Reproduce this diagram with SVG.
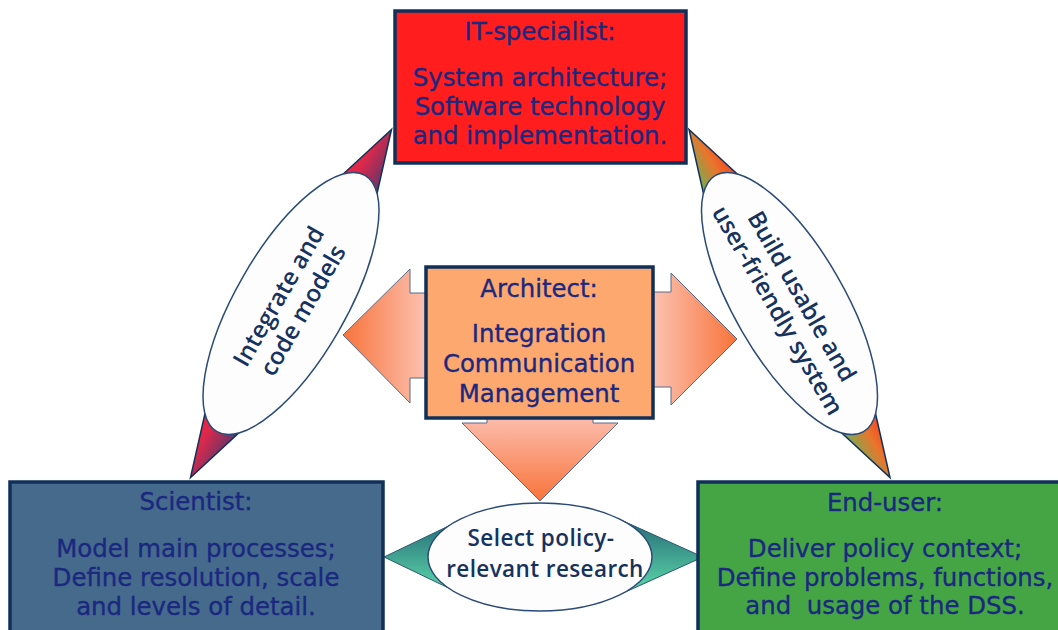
<svg xmlns="http://www.w3.org/2000/svg" width="1058" height="630" viewBox="0 0 1058 630">
<style>
.box{stroke:#10305a;stroke-width:3.5}
.bt{font-family:"DejaVu Sans",Verdana,sans-serif;font-size:24.4px;fill:#1a2880;stroke:#1a2880;stroke-width:0.35;text-anchor:middle}
.ct{font-family:"Open Sans","DejaVu Sans",sans-serif;font-size:24px;font-weight:600;fill:#16325e;text-anchor:middle}
.cb{font-family:"Open Sans","DejaVu Sans",sans-serif;font-size:22.5px;font-weight:600;fill:#16325e;text-anchor:middle;letter-spacing:0.4px}
.ell{fill:#fdfdfd;stroke:#2a4a78;stroke-width:1.5}
.arr{stroke:#5a6a88;stroke-width:1}
</style>
<defs>
<linearGradient id="gL" gradientUnits="userSpaceOnUse" x1="0" y1="-30" x2="0" y2="30">
<stop offset="0" stop-color="#f42038"/><stop offset="0.35" stop-color="#e0284a"/><stop offset="1" stop-color="#363a72"/>
</linearGradient>
<linearGradient id="gR" gradientUnits="userSpaceOnUse" x1="0" y1="-30" x2="0" y2="30">
<stop offset="0" stop-color="#ff2a1e"/><stop offset="0.45" stop-color="#e8762c"/><stop offset="1" stop-color="#3cc864"/>
</linearGradient>
<linearGradient id="gB" x1="0" y1="0" x2="0" y2="1">
<stop offset="0" stop-color="#256a78"/><stop offset="1" stop-color="#5edcaa"/>
</linearGradient>
<linearGradient id="gAL" x1="0" y1="0" x2="1" y2="0">
<stop offset="0" stop-color="#f8733a"/><stop offset="1" stop-color="#fcc4b4"/>
</linearGradient>
<linearGradient id="gAR" x1="0" y1="0" x2="1" y2="0">
<stop offset="0" stop-color="#fcc4b4"/><stop offset="1" stop-color="#f8733a"/>
</linearGradient>
<linearGradient id="gAD" x1="0" y1="0" x2="0" y2="1">
<stop offset="0" stop-color="#fcbcac"/><stop offset="1" stop-color="#f8733a"/>
</linearGradient>
</defs>

<g id="connectors">
<g id="conn-left" transform="translate(291,303.5) rotate(-60)">
<polygon points="201,0 90,-34.5 90,34.5" fill="url(#gL)" stroke="#10305a" stroke-width="1.5"/>
<polygon points="-201,0 -90,-34.5 -90,34.5" fill="url(#gL)" stroke="#10305a" stroke-width="1.5"/>
<ellipse class="ell" cx="0" cy="0" rx="148" ry="55"/>
<text class="ct" x="0" y="-6">Integrate and</text>
<text class="ct" x="0" y="22">code models</text>
</g>
<g id="conn-right" transform="translate(789.5,303.5) rotate(60)">
<polygon points="201,0 90,-34.5 90,34.5" fill="url(#gR)" stroke="#10305a" stroke-width="1.5"/>
<polygon points="-201,0 -90,-34.5 -90,34.5" fill="url(#gR)" stroke="#10305a" stroke-width="1.5"/>
<ellipse class="ell" cx="0" cy="0" rx="148" ry="55"/>
<text class="ct" x="0" y="-6">Build usable and</text>
<text class="ct" x="0" y="22">user-friendly system</text>
</g>
<g id="conn-bottom">
<polygon points="384,557 460,520.5 460,593.5" fill="url(#gB)" stroke="#2a5a70" stroke-width="1"/>
<polygon points="703,557 620,519.6 620,594.4" fill="url(#gB)" stroke="#2a5a70" stroke-width="1"/>
<ellipse class="ell" cx="540" cy="557" rx="112" ry="54"/>
<text class="cb" x="541" y="546">Select policy-</text>
<text class="cb" x="545" y="577">relevant research</text>
</g>
<polygon id="arrow-left" class="arr" points="343,335 410,269 410,293 428,293 428,378 410,378 410,403" fill="url(#gAL)"/>
<polygon id="arrow-right" class="arr" points="737,339 671,273 671,292 651,292 651,387 671,387 671,405" fill="url(#gAR)"/>
<polygon id="arrow-down" class="arr" points="462,423 487,423 487,418 593,418 593,423 618,423 540,501" fill="url(#gAD)"/>
</g>

<g id="it-specialist">
<rect class="box" x="395" y="11" width="291" height="152" fill="#ff1d1d"/>
<text class="bt" x="540" y="40">IT-specialist:</text>
<text class="bt" x="540" y="86">System architecture;</text>
<text class="bt" x="540" y="115">Software technology</text>
<text class="bt" x="540" y="144">and implementation.</text>
</g>

<g id="architect">
<rect class="box" x="426" y="267" width="227" height="151" fill="#fca86e"/>
<text class="bt" x="539" y="297">Architect:</text>
<text class="bt" x="539" y="342">Integration</text>
<text class="bt" x="539" y="372">Communication</text>
<text class="bt" x="539" y="402">Management</text>
</g>

<g id="scientist">
<rect class="box" x="10" y="482" width="373" height="160" fill="#466a8c"/>
<text class="bt" x="196" y="510">Scientist:</text>
<text class="bt" x="196" y="557">Model main processes;</text>
<text class="bt" x="196" y="586">Define resolution, scale</text>
<text class="bt" x="196" y="615">and levels of detail.</text>
</g>

<g id="end-user">
<rect class="box" x="698" y="482" width="380" height="160" fill="#45a545"/>
<text class="bt" x="885" y="511">End-user:</text>
<text class="bt" x="885" y="557">Deliver policy context;</text>
<text class="bt" x="885" y="586">Define problems, functions,</text>
<text class="bt" x="885" y="614" xml:space="preserve">and  usage of the DSS.</text>
</g>
</svg>
